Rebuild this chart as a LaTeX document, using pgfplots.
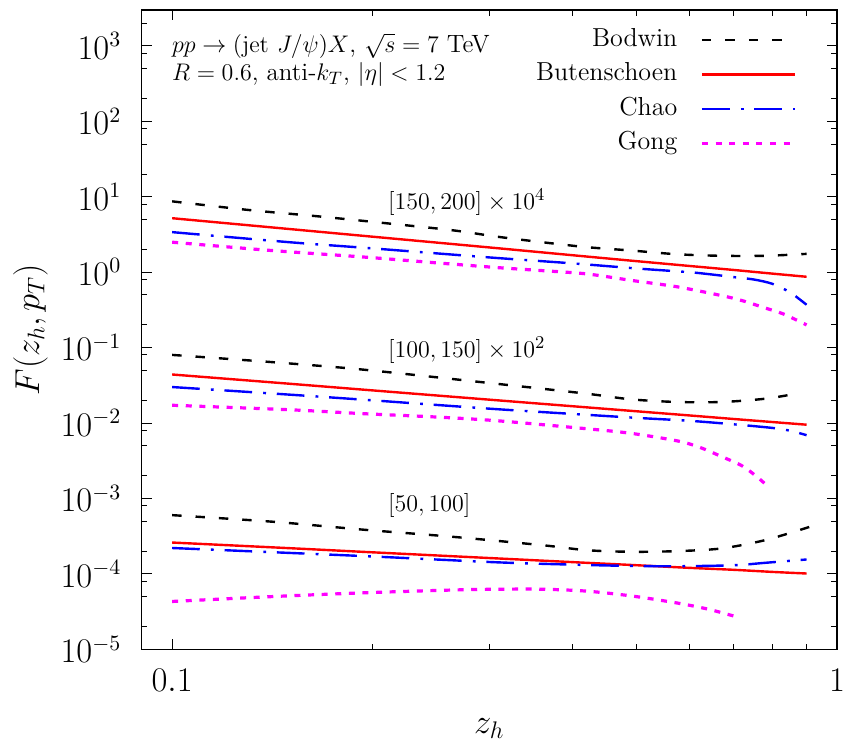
\documentclass[border=0pt]{standalone}
\usepackage{amsmath}
\usepackage{pgfplots}
\pgfplotsset{compat=1.18}

\definecolor{gongcol}{RGB}{255,0,255}
\definecolor{chaocol}{RGB}{0,0,255}
\definecolor{butcol}{RGB}{255,0,0}

\pgfplotsset{
  bod/.style={black, line width=1.2pt, dash pattern=on 4.7pt off 7pt},
  but/.style={butcol, line width=1.2pt},
  cha/.style={chaocol, line width=1.2pt, dash pattern=on 13.8pt off 5.6pt on 1.4pt off 5.4pt},
  gon/.style={gongcol, line width=1.6pt, dash pattern=on 3pt off 3.8pt},
}

\begin{document}
\begin{tikzpicture}
\useasboundingbox (-70.85pt,-50pt) rectangle (352pt,324.5pt);
\begin{axis}[
  at={(0pt,0pt)}, anchor=south west,
  scale only axis, width=347.5pt, height=319.5pt,
  xmode=log, ymode=log,
  xmin=0.09, xmax=1, ymin=1e-5, ymax=3000,
  xtick={0.1,1}, xticklabels={$0.1$,$1$},
  minor xtick={0.2,0.3,0.4,0.5,0.6,0.7,0.8,0.9},
  ytick={1e-5,1e-4,1e-3,1e-2,1e-1,1,10,100,1000},
  minor ytick={2e-5,5e-5,8e-5,2e-4,5e-4,8e-4,2e-3,5e-3,8e-3,2e-2,5e-2,8e-2,0.2,0.5,0.8,2,5,8,20,50,80,200,500,800,2000},
  tick align=inside,
  major tick length=5pt, minor tick length=2.8pt,
  every tick/.style={black, line width=0.5pt},
  axis line style={line width=0.6pt},
  tick label style={font=\fontsize{16}{19}\selectfont},
  xticklabel style={yshift=-6.5pt},
  yticklabel style={xshift=-6.7pt},
  xlabel={$z_h$}, ylabel={$F(z_h,p_T)$},
  label style={font=\fontsize{18}{21}\selectfont},
  x label style={at={(axis description cs:0.5,-0.124)}, anchor=center},
  y label style={at={(axis description cs:-0.16,0.5)}, anchor=center},
  legend cell align=right,
  legend plot pos=right,
  legend image code/.code={\draw[#1] (0pt,0pt) -- (46.5pt,0pt);},
  legend style={draw=none, fill=none, at={(axis description cs:1,1)}, anchor=north east,
    xshift=-20pt, yshift=-6pt, font=\fontsize{13}{15}\selectfont,
    row sep=0pt, column sep=9pt, inner sep=0pt,
    nodes={inner sep=2.5pt, text height=9.3pt, text depth=3pt}},
]

% [150,200] x 10^4
\addplot[bod, smooth] coordinates {(0.1,8.7) (0.13,6.7) (0.166,5.5) (0.213,4.4) (0.264,3.6) (0.309,2.95) (0.36,2.5) (0.42,2.15) (0.49,1.94) (0.575,1.73) (0.67,1.65) (0.78,1.65) (0.9,1.75)};
\addlegendentry{Bodwin}
\addplot[but, smooth] coordinates {(0.1,5.2) (0.15,3.74) (0.2,2.96) (0.3,2.13) (0.4,1.68) (0.5,1.40) (0.6,1.21) (0.7,1.07) (0.8,0.957) (0.9,0.870)};
\addlegendentry{Butenschoen}
\addplot[cha, smooth] coordinates {(0.1,3.4) (0.15,2.5) (0.2,2.07) (0.3,1.57) (0.4,1.31) (0.5,1.12) (0.6,1.0) (0.65,0.93) (0.7,0.86) (0.75,0.80) (0.8,0.70) (0.85,0.54) (0.9,0.37)};
\addlegendentry{Chao}
\addplot[gon, smooth] coordinates {(0.1,2.5) (0.14,1.95) (0.194,1.59) (0.25,1.33) (0.309,1.15) (0.36,1.05) (0.42,0.95) (0.49,0.78) (0.575,0.64) (0.67,0.49) (0.72,0.42) (0.78,0.335) (0.83,0.28) (0.9,0.2)};
\addlegendentry{Gong}

% [100,150] x 10^2
\addplot[bod, smooth, forget plot] coordinates {(0.1,0.080) (0.142,0.064) (0.194,0.051) (0.309,0.033) (0.42,0.0245) (0.49,0.0206) (0.575,0.019) (0.67,0.019) (0.78,0.021) (0.88,0.025)};
\addplot[but, smooth, forget plot] coordinates {(0.1,0.044) (0.15,0.0332) (0.2,0.0271) (0.3,0.0204) (0.4,0.0167) (0.5,0.0143) (0.6,0.0126) (0.7,0.0113) (0.8,0.0103) (0.9,0.0095)};
\addplot[cha, smooth, forget plot] coordinates {(0.1,0.030) (0.15,0.0238) (0.2,0.0200) (0.3,0.0155) (0.4,0.0132) (0.5,0.0117) (0.6,0.0107) (0.7,0.0096) (0.8,0.0086) (0.85,0.0079) (0.9,0.0069)};
\addplot[gon, smooth, forget plot] coordinates {(0.1,0.0172) (0.15,0.0150) (0.194,0.0133) (0.25,0.0120) (0.309,0.0107) (0.42,0.0084) (0.49,0.0073) (0.575,0.0058) (0.62,0.0048) (0.67,0.0036) (0.72,0.0027) (0.76,0.0019) (0.79,0.0014)};

% [50,100]
\addplot[bod, smooth, forget plot] coordinates {(0.1,6.0e-4) (0.142,4.9e-4) (0.194,3.85e-4) (0.264,3.1e-4) (0.36,2.4e-4) (0.42,2.06e-4) (0.49,1.96e-4) (0.575,2.0e-4) (0.67,2.17e-4) (0.78,2.8e-4) (0.91,4.2e-4)};
\addplot[but, smooth, forget plot] coordinates {(0.1,2.6e-4) (0.15,2.19e-4) (0.2,1.93e-4) (0.3,1.62e-4) (0.4,1.43e-4) (0.5,1.30e-4) (0.6,1.20e-4) (0.7,1.13e-4) (0.8,1.06e-4) (0.9,1.01e-4)};
\addplot[cha, smooth, forget plot] coordinates {(0.1,2.2e-4) (0.194,1.72e-4) (0.309,1.42e-4) (0.42,1.31e-4) (0.5,1.27e-4) (0.575,1.26e-4) (0.7,1.3e-4) (0.78,1.4e-4) (0.9,1.55e-4)};
\addplot[gon, smooth, forget plot] coordinates {(0.1,4.3e-5) (0.142,5.0e-5) (0.194,5.6e-5) (0.264,6.1e-5) (0.309,6.25e-5) (0.36,6.25e-5) (0.42,5.9e-5) (0.49,5.1e-5) (0.575,4.1e-5) (0.64,3.4e-5) (0.70,2.75e-5)};

\node[anchor=north west, inner sep=0pt, align=left, font=\fontsize{12.5}{14}\selectfont]
  at (rel axis cs:0.043,0.964) {$pp\to(\mathrm{jet}\ J/\psi)X$, $\sqrt{s}=7$ TeV\\ $R=0.6$, anti-$k_T$, $|\eta|<1.2$};
\node[anchor=west, inner sep=0pt, font=\fontsize{13}{15}\selectfont] at (axis cs:0.211,8.5) {$[150,200]\times10^4$};
\node[anchor=west, inner sep=0pt, font=\fontsize{13}{15}\selectfont] at (axis cs:0.211,0.092) {$[100,150]\times10^2$};
\node[anchor=west, inner sep=0pt, font=\fontsize{13}{15}\selectfont] at (axis cs:0.211,8.0e-4) {$[50,100]$};
\end{axis}
\end{tikzpicture}
\end{document}
